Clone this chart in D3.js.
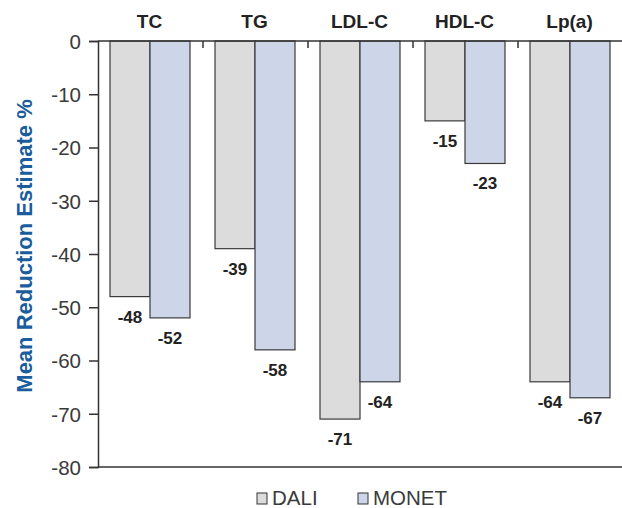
<!DOCTYPE html>
<html><head><meta charset="utf-8">
<script src="https://cdn.jsdelivr.net/npm/d3@7"></script>
<style>body{margin:0;background:#fff;} text{font-family:"Liberation Sans",Arial,sans-serif;}</style>
</head><body>
<svg id="c" width="622" height="508"></svg>
<script>
const categories = ["TC","TG","LDL-C","HDL-C","Lp(a)"];
const seriesNames = ["DALI","MONET"];
const dali = [-48,-39,-71,-15,-64];
const monet = [-52,-58,-64,-23,-67];
const yTicks = [0,-10,-20,-30,-40,-50,-60,-70,-80];
const colors = ["#dcdcdc","#cdd5e8"];

(function(){
const svg = d3.select("#c");
const mLeft = 98, mRight = 623, mTop = 41, mBottom = 467;
const x = d3.scaleBand().domain(categories).range([mLeft,mRight]).paddingInner(0).paddingOuter(0);
const xs = d3.scaleBand().domain(seriesNames).range([12, 92]);
const y = d3.scaleLinear().domain([0,-80]).range([mTop,mBottom]);
const data = [dali, monet];

// bars
seriesNames.forEach((s,si)=>{
  svg.append("g").selectAll("rect").data(categories).join("rect")
    .attr("x", c=>x(c)+xs(s)).attr("y", y(0))
    .attr("width", xs.bandwidth()).attr("height", (c,i)=>y(data[si][i])-y(0))
    .attr("fill", colors[si]).attr("stroke","#3a3a3a").attr("stroke-width",1.2);
  svg.append("g").selectAll("text").data(categories).join("text")
    .attr("x", c=>x(c)+xs(s)+xs.bandwidth()/2)
    .attr("y", (c,i)=>y(data[si][i])+26)
    .attr("text-anchor","middle").attr("font-weight","bold").attr("font-size",17).attr("fill","#222")
    .text((c,i)=>data[si][i]);
});

// y axis
const yAxis = d3.axisLeft(y).tickValues(yTicks).tickSize(9).tickPadding(8).tickFormat(d=>d);
const ga = svg.append("g").attr("transform",`translate(${mLeft},0)`).call(yAxis);
ga.select(".domain").attr("stroke","#333").attr("stroke-width",1.5);
ga.selectAll(".tick line").attr("stroke","#333").attr("stroke-width",1.5);
ga.selectAll(".tick text").attr("font-size",20.5).attr("fill","#3a3a3a").attr("dy","0.36em")
  .style("font-family","'Liberation Sans',Arial,sans-serif");

// top zero line and category ticks
svg.append("line").attr("x1",mLeft).attr("x2",mRight).attr("y1",y(0)).attr("y2",y(0)).attr("stroke","#333").attr("stroke-width",1.5);
svg.append("g").selectAll("line").data(categories.slice(1)).join("line")
  .attr("x1",c=>x(c)).attr("x2",c=>x(c)).attr("y1",y(0)).attr("y2",y(0)+7)
  .attr("stroke","#333").attr("stroke-width",1.5);
// bottom line
svg.append("line").attr("x1",mLeft).attr("x2",mRight).attr("y1",y(-80)).attr("y2",y(-80)).attr("stroke","#333").attr("stroke-width",1.5);

// category labels
svg.append("g").selectAll("text").data(categories).join("text")
  .attr("x",c=>x(c)+x.bandwidth()/2-1).attr("y",28)
  .attr("text-anchor","middle").attr("font-weight","bold").attr("font-size",19).attr("fill","#222")
  .text(c=>c);

// y title
svg.append("text").attr("transform",`translate(32,${(mTop+mBottom)/2 - 8}) rotate(-90)`)
  .attr("text-anchor","middle").attr("font-weight","bold").attr("font-size",22).attr("fill","#1a5c9c")
  .text("Mean Reduction Estimate %");

// legend
const legX = [257, 358];
seriesNames.forEach((s,i)=>{
  svg.append("rect").attr("x",legX[i]).attr("y",493).attr("width",10).attr("height",11)
    .attr("fill",colors[i]).attr("stroke","#333").attr("stroke-width",1);
  svg.append("text").attr("x",legX[i]+15).attr("y",505).attr("font-size",20.5).attr("fill","#3a3a3a").text(s);
});
})();
</script>
</body></html>
